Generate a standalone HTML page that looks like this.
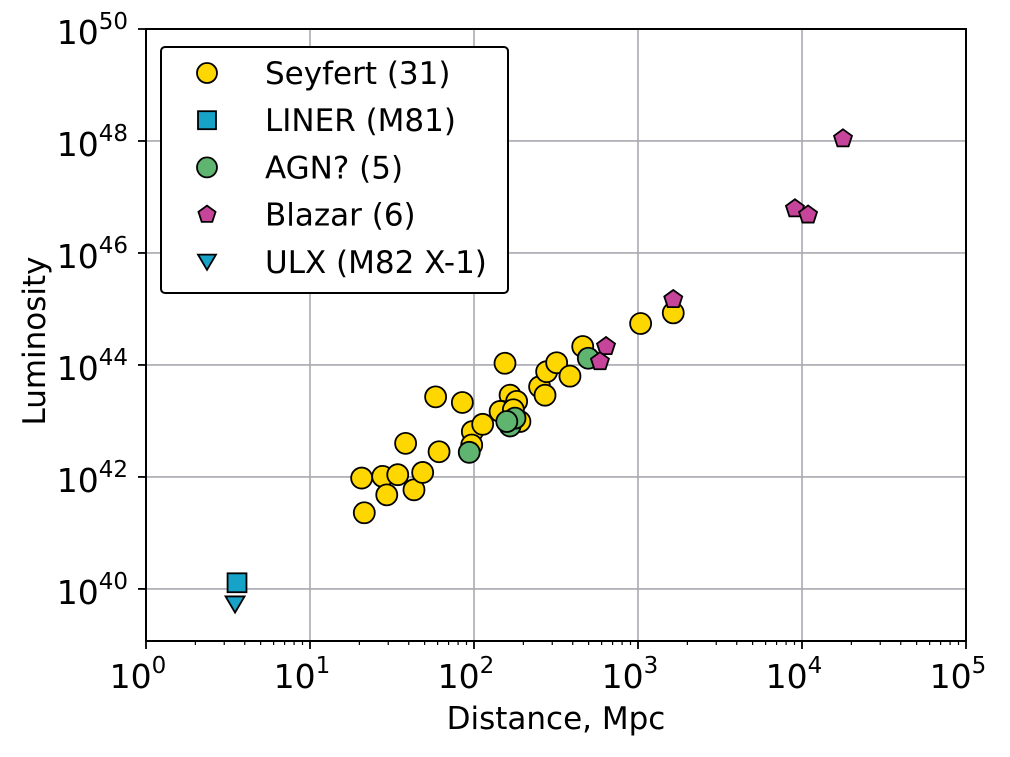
<!DOCTYPE html>
<html><head><meta charset="utf-8"><style>
html,body{margin:0;padding:0;background:#fff;}
svg text{font-family:"DejaVu Sans","Liberation Sans",sans-serif;fill:#000;}
</style></head><body>
<svg id="chart" width="1010" height="752" viewBox="0 0 1010 752">
<rect width="1010" height="752" fill="#fff"/>
<g id="grid"></g>
<g id="axes"></g>
<g id="marks"></g>
<text x="556" y="729" font-size="31" text-anchor="middle">Distance, Mpc</text>
<text transform="translate(45,341) rotate(-90)" font-size="31" text-anchor="middle">Luminosity</text>
<g id="legend">
<rect x="161" y="47" width="347" height="246" rx="4" fill="#fff" stroke="#000" stroke-width="2"/>
</g>
</svg>
<script>
const seyfertX=[1.315,1.331,1.443,1.468,1.535,1.634,1.687,1.583,1.787,1.766,1.929,1.990,2.053,1.986,2.189,2.22,2.169,2.26,2.28,2.40,2.433,2.443,2.504,2.585,2.663,3.016,3.215,2.159,2.24];
const seyfertY=[41.98,41.36,42.01,41.68,42.04,41.77,42.08,42.60,42.45,43.43,43.33,42.81,42.94,42.57,44.03,43.46,43.17,43.35,42.99,43.61,43.46,43.88,44.04,43.80,44.33,44.74,44.93,43.17,43.2];
const agnX=[1.971,2.22,2.25,2.697,2.2];
const agnY=[42.44,42.91,43.05,44.12,42.99];
const blazarX=[3.215,2.805,2.768,4.25,3.957,4.037];
const blazarY=[45.17,44.33,44.06,48.04,46.79,46.68];
const linerX=[0.555];const linerY=[40.11];
const ulxX=[0.543];const ulxY=[39.73];
const xTicks=[0,1,2,3,4,5];
const yTicks=[40,42,44,46,48,50];
const legendLabels=["Seyfert (31)","LINER (M81)","AGN? (5)","Blazar (6)","ULX (M82 X-1)"];

const L=146,R=966,T=29,B=641,YMIN=39.07,YMAX=50;
const sx=v=>L+(v-0)/5*(R-L);
const sy=v=>B-(v-YMIN)/(YMAX-YMIN)*(B-T);
const NS="http://www.w3.org/2000/svg";
function mk(tag,attrs,parent){const e=document.createElementNS(NS,tag);for(const k in attrs)e.setAttribute(k,attrs[k]);parent.appendChild(e);return e;}
const grid=document.getElementById('grid'),axes=document.getElementById('axes'),marks=document.getElementById('marks'),legend=document.getElementById('legend');
xTicks.forEach(t=>{const x=sx(t);
 const g=mk('line',{x1:x,x2:x,y1:T,y2:B,stroke:'#a8a8b0','stroke-width':1.6},grid);
 
 mk('line',{x1:x,x2:x,y1:B,y2:B+8,stroke:'#000','stroke-width':1.8},axes);
 if(t<5){for(let k=2;k<10;k++){const xm=sx(t+Math.log10(k));mk('line',{x1:xm,x2:xm,y1:B,y2:B+4,stroke:'#000','stroke-width':1.2},axes);}}
 const tx=mk('text',{x:x-8,y:B+47,'font-size':33,'text-anchor':'middle'},axes);
 
 tx.innerHTML='10<tspan font-size="23" dy="-15">'+t+'</tspan>';});
yTicks.forEach(t=>{const y=sy(t);
 const g=mk('line',{x1:L,x2:R,y1:y,y2:y,stroke:'#a8a8b0','stroke-width':1.6},grid);
 
 mk('line',{x1:L-8,x2:L,y1:y,y2:y,stroke:'#000','stroke-width':1.8},axes);
 const tx=mk('text',{x:L-18,y:y+15,'font-size':33,'text-anchor':'end'},axes);
 
 tx.innerHTML='10<tspan font-size="23" dy="-15">'+t+'</tspan>';});
const frame=mk('rect',{x:L,y:T,width:R-L,height:B-T,fill:'none',stroke:'#000','stroke-width':2},axes);


function marker(type,x,y,parent,r){
 let e;
 if(type==='circle'){e=mk('circle',{cx:x,cy:y,r:r},parent);}
 else if(type==='square'){e=mk('rect',{x:x-r*0.9,y:y-r*0.9,width:r*1.8,height:r*1.8},parent);}
 else if(type==='pent'){let p=[];for(let i=0;i<5;i++){const a=-Math.PI/2+i*2*Math.PI/5;p.push((x+r*0.9*Math.cos(a))+','+(y+r*0.9*Math.sin(a)));}e=mk('polygon',{points:p.join(' ')},parent);}
 else {e=mk('polygon',{points:(x-r)+','+(y-r*0.8)+' '+(x+r)+','+(y-r*0.8)+' '+x+','+(y+r*0.9)},parent);}
 e.setAttribute('stroke','#000');e.setAttribute('stroke-width','1.8');
 return e;}
const series=[
 {X:seyfertX,Y:seyfertY,type:'circle',fill:'#ffd700',name:'seyfert-point',r:10.5},
 {X:linerX,Y:linerY,type:'square',fill:'#17a2c8',name:'liner-point',r:10.5},
 {X:agnX,Y:agnY,type:'circle',fill:'#5fb56f',name:'agn-point',r:10.5},
 {X:blazarX,Y:blazarY,type:'pent',fill:'#c6449a',name:'blazar-point',r:10.5},
 {X:ulxX,Y:ulxY,type:'tri',fill:'#17a2c8',name:'ulx-point',r:9.5}];
series.forEach(s=>{s.X.forEach((v,i)=>{const e=marker(s.type,sx(v),sy(s.Y[i]),marks,s.r);e.setAttribute('fill',s.fill);
 
 });});
legendLabels.forEach((lab,i)=>{const y=73+i*47.2;const s=series[i];
 const m=marker(s.type,207,y,legend,i===4?9:10);m.setAttribute('fill',s.fill);
 
 
 const t=mk('text',{x:265,y:y+11,'font-size':31},legend);t.textContent=lab;
 
 });
</script>
</body></html>
